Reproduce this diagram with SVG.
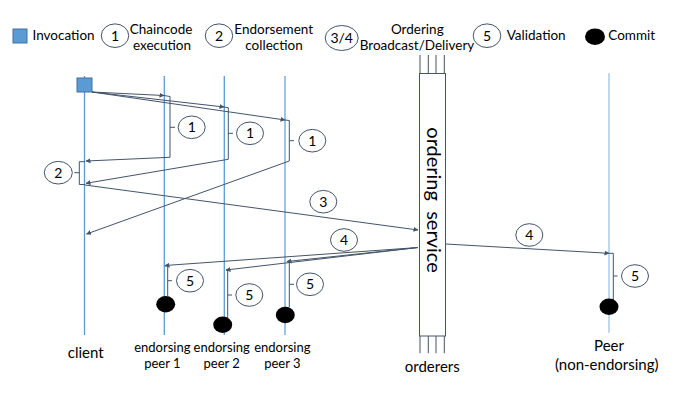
<svg xmlns="http://www.w3.org/2000/svg" width="692" height="420" viewBox="0 0 692 420">
<defs>
<marker id="ah" viewBox="0 0 10 10" refX="9" refY="5" markerWidth="5" markerHeight="5" markerUnits="userSpaceOnUse" orient="auto">
<path d="M0,0 L10,5 L0,10 z" fill="#44546a"/>
</marker>
<style>
text{font-family:Lato,"Liberation Sans",sans-serif;fill:#000}
.lg{font-size:13.5px}
.lb{font-size:13px;text-anchor:middle}
.lb2{font-size:15px;text-anchor:middle}
.num{font-size:14px;text-anchor:middle}
.life{stroke:#5b9bd5;stroke-width:1.3;fill:none}
.life2{stroke:#9dc3e6;stroke-width:2;fill:none}
.life3{stroke:#9dc3e6;stroke-width:1.3;fill:none}
.cn{stroke:#44546a;stroke-width:1;fill:none}
.ar{marker-end:url(#ah)}
.oc{fill:#fff;stroke:#44546a;stroke-width:1}
.dot{fill:#000}
.ord{stroke:#44546a;stroke-width:1;fill:#fff}
</style>
</defs>
<rect width="692" height="420" fill="#fff"/>

<g id="legend">
<rect x="13" y="29" width="14" height="14" fill="#5b9bd5" stroke="#41719c" stroke-width="1"/>
<text class="lg" x="32.5" y="39.5">Invocation</text>
<ellipse class="oc" cx="115" cy="35.7" rx="13.7" ry="11.8"/>
<text class="num" x="115" y="40.5">1</text>
<text class="lg" x="161" y="33.5" text-anchor="middle">Chaincode</text>
<text class="lg" x="162" y="50" text-anchor="middle">execution</text>
<ellipse class="oc" cx="219" cy="35.7" rx="13.7" ry="11.8"/>
<text class="num" x="219" y="40.5">2</text>
<text class="lg" x="273.7" y="33.5" text-anchor="middle">Endorsement</text>
<text class="lg" x="274" y="50" text-anchor="middle">collection</text>
<ellipse class="oc" cx="341.7" cy="38" rx="16.5" ry="12.5"/>
<text class="num" x="341.7" y="42.8">3/4</text>
<text class="lg" x="417.3" y="33.5" text-anchor="middle">Ordering</text>
<text class="lg" x="417" y="50" text-anchor="middle">Broadcast/Delivery</text>
<ellipse class="oc" cx="487" cy="35.7" rx="13.8" ry="11.8"/>
<text class="num" x="487" y="40.5">5</text>
<text class="lg" x="506.7" y="39.5">Validation</text>
<ellipse class="dot" cx="595" cy="36.7" rx="10" ry="8.3"/>
<text class="lg" x="608.3" y="39.5">Commit</text>
</g>

<g id="client">
<line class="life" x1="84.5" y1="76" x2="84.5" y2="335"/>
<rect x="77" y="78" width="15" height="14" fill="#5b9bd5" stroke="#41719c" stroke-width="1"/>
<text class="lb2" x="85.7" y="357.7">client</text>
</g>
<g id="peer1">
<line class="life" x1="164.3" y1="76" x2="164.3" y2="335"/>
<text class="lb" x="162.3" y="352">endorsing</text>
<text class="lb" x="162.3" y="368.3">peer 1</text>
</g>
<g id="peer2">
<line class="life" x1="224.3" y1="76" x2="224.3" y2="335"/>
<text class="lb" x="221.7" y="352">endorsing</text>
<text class="lb" x="221.7" y="368.3">peer 2</text>
</g>
<g id="peer3">
<line class="life2" x1="285" y1="76" x2="285" y2="335"/>
<text class="lb" x="282.3" y="352">endorsing</text>
<text class="lb" x="282.3" y="368.3">peer 3</text>
</g>
<g id="peer">
<line class="life3" x1="609" y1="73.3" x2="609" y2="332.7"/>
<text class="lb2" x="609" y="351">Peer</text>
<text class="lb2" x="606.7" y="370">(non-endorsing)</text>
</g>
<g id="orderers">
<path class="cn" d="M420,55 V73.5 M428.3,55 V73.5 M436,55 V73.5 M444.3,55 V73.5 M420,336 V353.3 M428.3,336 V353.3 M436,336 V353.3 M444.3,336 V353.3"/>
<rect class="ord" x="419.5" y="73.5" width="26" height="262.5"/>
<text x="0" y="0" transform="translate(427,200) rotate(90)" text-anchor="middle" font-size="20" xml:space="preserve">ordering  service</text>
<text class="lb2" x="432.3" y="371.7">orderers</text>
</g>

<g id="connectors">
<path class="cn ar" d="M92,92 L164,95.5"/>
<path class="cn" d="M164,95.5 L170,96.5 V157.3 M170,127.3 H175"/>
<path class="cn ar" d="M170,157.3 L86,161"/>
<path class="cn ar" d="M92,92 L224,107"/>
<path class="cn" d="M224,107 L228.3,107.7 V159.3 M228.3,133.3 H233"/>
<path class="cn ar" d="M228.3,159.3 L86,183.3"/>
<path class="cn ar" d="M92,92 L285,120"/>
<path class="cn" d="M285,120 L289.3,120.5 V161 M289.3,140.7 H294"/>
<path class="cn ar" d="M289.3,161 L86.5,234"/>
<path class="cn" d="M85,161.7 H79.3 V184.5 H85 M74.3,172.7 H79.3"/>
<path class="cn ar" d="M85,185 L418,230"/>
<path class="cn ar" d="M418,247.5 L165,265.5"/>
<path class="cn ar" d="M418,247.5 L226,270"/>
<path class="cn ar" d="M418,247.5 L287,261.5"/>
<path class="cn ar" d="M445.7,244 L609,253.3"/>
<path class="cn" d="M165,266 H167.7 V296 M167.7,280.7 H172"/>
<path class="cn" d="M226,270 H227.7 V318 M227.7,295 H232"/>
<path class="cn" d="M287,261.5 H289.3 V307 M289.3,284.3 H294"/>
<path class="cn" d="M609,253.3 H613.3 V300 H609 M613.3,276 H617.5"/>
</g>

<g id="steps">
<ellipse class="oc" cx="191.7" cy="127.3" rx="13.5" ry="11.3"/><text class="num" x="191.7" y="132.3">1</text>
<ellipse class="oc" cx="250" cy="133.3" rx="13.5" ry="11.3"/><text class="num" x="250" y="138.3">1</text>
<ellipse class="oc" cx="312.3" cy="140.7" rx="13.5" ry="11.3"/><text class="num" x="312.3" y="145.7">1</text>
<ellipse class="oc" cx="58.3" cy="172.7" rx="14" ry="11.3"/><text class="num" x="58.3" y="177.7">2</text>
<ellipse class="oc" cx="323.3" cy="201.7" rx="13.5" ry="11.3"/><text class="num" x="323.3" y="206.7">3</text>
<ellipse class="oc" cx="344" cy="240" rx="13.5" ry="11.3"/><text class="num" x="344" y="245">4</text>
<ellipse class="oc" cx="529.3" cy="235" rx="13.5" ry="11.3"/><text class="num" x="529.3" y="240">4</text>
<ellipse class="oc" cx="190" cy="280.7" rx="13.5" ry="11.3"/><text class="num" x="190" y="285.7">5</text>
<ellipse class="oc" cx="249.3" cy="295" rx="13.5" ry="11.3"/><text class="num" x="249.3" y="300">5</text>
<ellipse class="oc" cx="310" cy="284.3" rx="13.5" ry="11.3"/><text class="num" x="310" y="289.3">5</text>
<ellipse class="oc" cx="635" cy="276" rx="13.5" ry="11.3"/><text class="num" x="635" y="281">5</text>
</g>

<g id="commits">
<ellipse class="dot" cx="165.7" cy="304.2" rx="9.5" ry="8.2"/>
<ellipse class="dot" cx="222.7" cy="324.7" rx="9.5" ry="8.2"/>
<ellipse class="dot" cx="285.3" cy="315" rx="9.5" ry="8.2"/>
<ellipse class="dot" cx="609" cy="306.7" rx="9.5" ry="8.2"/>
</g>
</svg>
